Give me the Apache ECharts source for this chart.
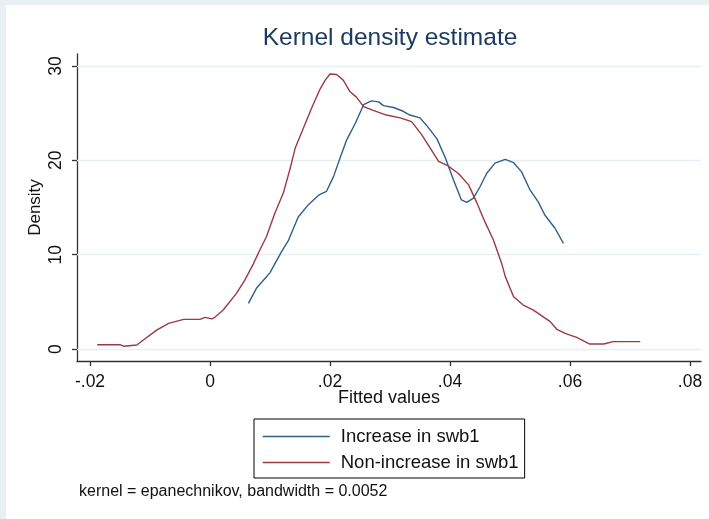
<!DOCTYPE html>
<html>
<head>
<meta charset="utf-8">
<script src="https://cdn.jsdelivr.net/npm/echarts@6/dist/echarts.min.js"></script>
<style>html,body{margin:0;padding:0;background:#fff}#c{width:709px;height:519px}</style>
</head>
<body>
<div id="c"></div>
<script>
// ---- data ----
var increaseX = [0.0064,0.0078,0.0092,0.0100,0.0119,0.0131,0.0147,0.0164,0.0181,0.0194,0.0206,0.0217,0.0228,0.0242,0.0256,0.0269,0.0281,0.0289,0.0306,0.0322,0.0333,0.0350,0.0361,0.0378,0.0392,0.0406,0.0419,0.0428,0.0439,0.0450,0.0461,0.0475,0.0492,0.0506,0.0519,0.0533,0.0547,0.0558,0.0575,0.0589];
var increaseY = [4.84,6.5,7.5,8.1,10.3,11.55,14.0,15.3,16.3,16.7,18.3,20.3,22.2,23.9,25.9,26.3,26.2,25.8,25.6,25.2,24.8,24.5,23.7,22.3,20.3,17.9,15.8,15.55,16.0,17.2,18.6,19.7,20.1,19.75,18.8,16.9,15.6,14.2,12.8,11.2];
var nonIncreaseX = [-0.0188,-0.0150,-0.0144,-0.0122,-0.0111,-0.0089,-0.0069,-0.0044,-0.0017,-0.0008,0.0003,0.0008,0.0022,0.0044,0.0058,0.0072,0.0083,0.0094,0.0108,0.0122,0.0133,0.0142,0.0153,0.0169,0.0183,0.0192,0.0200,0.0211,0.0222,0.0233,0.0244,0.0256,0.0272,0.0294,0.0317,0.0336,0.0353,0.0367,0.0381,0.0397,0.0414,0.0431,0.0444,0.0458,0.0472,0.0486,0.0492,0.0506,0.0522,0.0539,0.0567,0.0578,0.0592,0.0611,0.0633,0.0656,0.0672,0.0717];
var nonIncreaseY = [0.46,0.46,0.30,0.42,0.95,2.0,2.72,3.14,3.14,3.36,3.2,3.36,4.13,5.9,7.3,9.0,10.5,11.9,14.4,16.5,19.0,21.3,23.0,25.5,27.5,28.5,29.15,29.1,28.5,27.3,26.7,25.7,25.3,24.8,24.5,24.1,22.7,21.3,19.9,19.4,18.6,17.4,15.6,13.5,11.6,9.1,7.7,5.55,4.66,4.13,2.9,2.09,1.66,1.24,0.53,0.53,0.78,0.78];
var xTicks = [-0.02, 0, 0.02, 0.04, 0.06, 0.08];
var xTickLabels = ['-.02', '0', '.02', '.04', '.06', '.08'];
var yTicks = [0, 10, 20, 30];
var seriesNames = ['Increase in swb1', 'Non-increase in swb1'];
var titleText = 'Kernel density estimate';
var noteText = 'kernel = epanechnikov, bandwidth = 0.0052';

function pairs(xs, ys) { return xs.map(function (x, i) { return [x, ys[i]]; }); }

var chart = echarts.init(document.getElementById('c'));
var font = 'Liberation Sans, Arial, sans-serif';
chart.setOption({
  backgroundColor: '#ffffff',
  animation: false,
  title: {
    text: titleText, left: 385, top: 21, textAlign: 'center',
    textStyle: { fontFamily: font, fontSize: 24.5, fontWeight: 'normal', color: '#1c3a62' }
  },
  graphic: [
    { type: 'rect', shape: { x: 0, y: 0, width: 709, height: 5 }, style: { fill: '#e9f0f4' } },
    { type: 'rect', shape: { x: 0, y: 0, width: 6, height: 519 }, style: { fill: '#e9f0f4' } },
    { type: 'text', left: 79, top: 484, style: { text: noteText, font: '16px Liberation Sans, Arial', fill: '#111' } }
  ],
  grid: { left: 77, right: 8, top: 54, bottom: 158, containLabel: false },
  xAxis: {
    type: 'value', min: -0.02217, max: 0.08183,
    name: 'Fitted values', nameLocation: 'middle', nameGap: 28, nameMoveOverlap: false,
    nameTextStyle: { fontFamily: font, fontSize: 18, color: '#111' },
    axisLine: { show: true, onZero: false, lineStyle: { color: '#333', width: 1.3 } },
    axisTick: { show: true, length: 5, lineStyle: { color: '#333', width: 1.3 }, customValues: xTicks },
    axisLabel: {
      fontFamily: font, fontSize: 17.5, color: '#111', margin: 12, customValues: xTicks,
      formatter: function (v) { var i = xTicks.findIndex(function (t) { return Math.abs(t - v) < 1e-9; }); return i >= 0 ? xTickLabels[i] : ''; }
    },
    splitLine: { show: false }
  },
  yAxis: {
    type: 'value', min: -1.27, max: 31.27,
    name: 'Density', nameLocation: 'middle', nameGap: 33, nameRotate: 90, nameMoveOverlap: false,
    nameTextStyle: { fontFamily: font, fontSize: 17, color: '#111' },
    axisLine: { show: true, onZero: false, lineStyle: { color: '#333', width: 1.3 } },
    axisTick: { show: true, length: 5, lineStyle: { color: '#333', width: 1.3 }, customValues: yTicks },
    axisLabel: { fontFamily: font, fontSize: 17.5, color: '#111', margin: 12, rotate: 90, customValues: yTicks },
    splitLine: { show: false }
  },
  legend: {
    left: 254, top: 419, orient: 'vertical',
    data: seriesNames,
    itemWidth: 67, itemHeight: 18, itemGap: 7,
    padding: [8, 6, 6, 8],
    borderColor: '#000', borderWidth: 1, borderRadius: 0,
    backgroundColor: '#fff',
    itemStyle: { opacity: 0 },
    lineStyle: { width: 1.5 },
    textStyle: { fontFamily: font, fontSize: 18.5, color: '#111', padding: [0, 0, 0, 6] }
  },
  series: [
    {
      name: seriesNames[0], type: 'line', data: pairs(increaseX, increaseY),
      symbol: 'none', smooth: false, z: 3,
      lineStyle: { color: '#2f5f8c', width: 1.4 }, itemStyle: { color: '#2f5f8c' },
      markLine: {
        silent: true, symbol: 'none', label: { show: false }, z: 1,
        lineStyle: { color: '#e6eef2', width: 1.3, type: 'solid' },
        data: yTicks.map(function (t) { return { yAxis: t }; })
      }
    },
    {
      name: seriesNames[1], type: 'line', data: pairs(nonIncreaseX, nonIncreaseY),
      symbol: 'none', smooth: false, z: 3,
      lineStyle: { color: '#9a3a42', width: 1.4 }, itemStyle: { color: '#9a3a42' }
    }
  ]
});
</script>
</body>
</html>
